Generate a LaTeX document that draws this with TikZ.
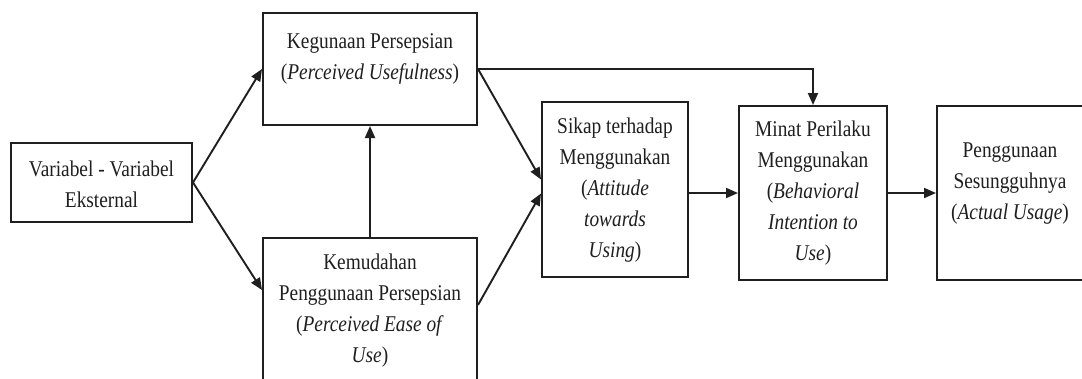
\documentclass[tikz,border=0pt]{standalone}
\usepackage{fontspec}
\setmainfont{Liberation Serif}[FakeStretch=0.86]
\usetikzlibrary{arrows.meta}
\begin{document}
\begin{tikzpicture}[x=1pt,y=-1pt,
  boxnode/.style={draw=black!88,line width=2pt,inner sep=0pt},
  txt/.style={align=center,inner sep=0pt,text=black!88,font=\fontsize{22.5}{31}\selectfont},
  conn/.style={draw=black!88,line width=1.9pt,-{Triangle[length=12pt,width=10pt]}}]
\fill[white] (0,0) rectangle (1082,378);
\useasboundingbox (0,0) rectangle (1082,378);
% boxes
\node[boxnode,minimum width=181pt,minimum height=79pt] (var) at (101.5,182.5) {};
\node[boxnode,minimum width=214pt,minimum height=112pt] (keg) at (370,69) {};
\node[boxnode,minimum width=214pt,minimum height=146pt] (kem) at (370,311) {};
\node[boxnode,minimum width=146pt,minimum height=175pt] (sik) at (615,189.5) {};
\node[boxnode,minimum width=148pt,minimum height=174pt] (min) at (813,193) {};
\node[boxnode,minimum width=147pt,minimum height=174pt] (pen) at (1010.5,193) {};
% texts
\node[txt] (vart) at (101.5,184) {Variabel - Variabel\\Eksternal};
\node[txt] (kegt) at (370,59) {Kegunaan Persepsian\\(\textit{Perceived Usefulness})};
\node[txt] (kemt) at (370,311) {Kemudahan\\Penggunaan Persepsian\\(\textit{Perceived Ease of}\\\textit{Use})};
\node[txt] (sikt) at (615,190) {Sikap terhadap\\Menggunakan\\(\textit{Attitude}\\\textit{towards}\\\textit{Using})};
\node[txt] (mint) at (813,193) {Minat Perilaku\\Menggunakan\\(\textit{Behavioral}\\\textit{Intention to}\\\textit{Use})};
\node[txt] (pent) at (1010,184) {Penggunaan\\Sesungguhnya\\(\textit{Actual Usage})};
% connectors
\draw[conn] (var.east) -- (keg.west);
\draw[conn] (var.east) -- ([yshift=21pt]kem.west);
\draw[conn] (kem.north) -- (keg.south);
\draw[conn] (keg.east) -- ([yshift=10pt]sik.west);
\draw[conn] ([yshift=6pt]kem.east) -- ([yshift=-4pt]sik.west);
\draw[conn] (keg.east) -| (min.north);
\draw[conn] (min.west -| sik.east) -- (min.west);
\draw[conn] (min.east) -- (pen.west);
\end{tikzpicture}
\end{document}
